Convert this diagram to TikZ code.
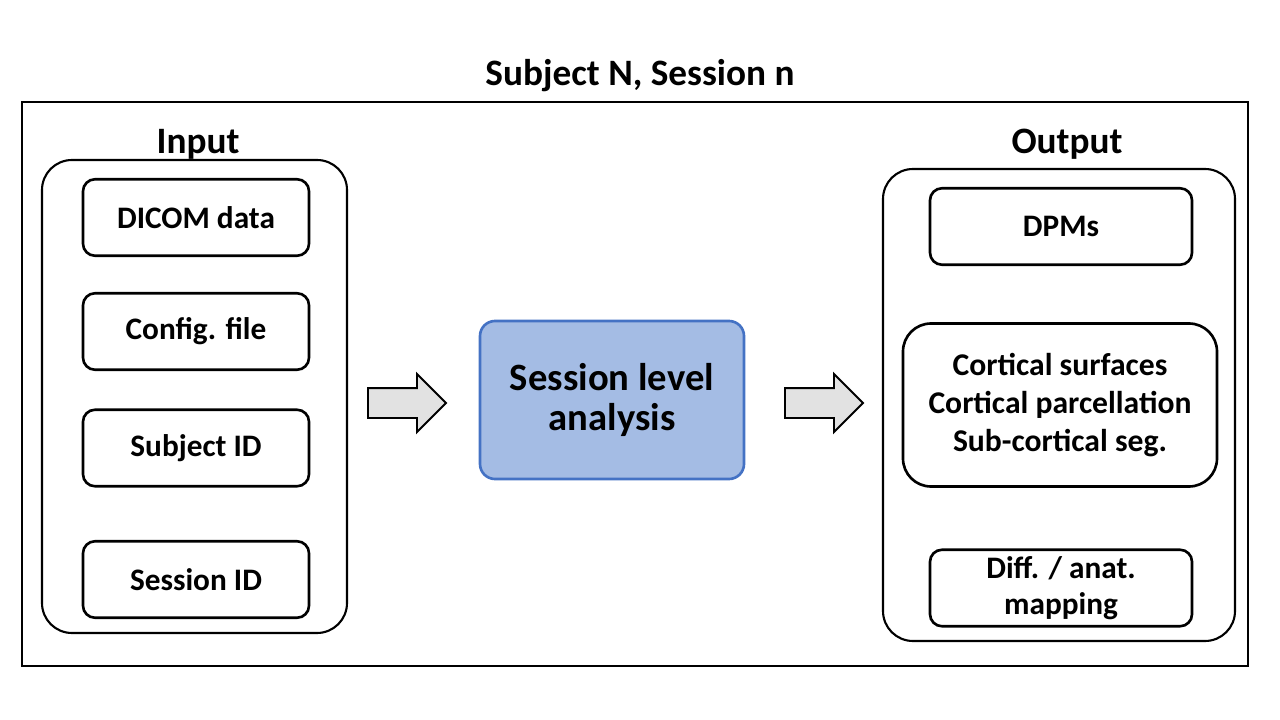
\documentclass[tikz,border=0pt]{standalone}
\usepackage{fontspec}
\setmainfont{Carlito}
\usetikzlibrary{positioning, shapes.arrows}
\definecolor{coreFill}{RGB}{164, 188, 228}
\definecolor{coreEdge}{RGB}{68, 114, 196}
\definecolor{blockGray}{RGB}{226, 226, 226}

\begin{document}
\begin{tikzpicture}[
  x=0.2mm, y=-0.2mm,
  every node/.style={inner sep=0pt, align=center},
  panel/.style={draw, line width=1.2pt, rounded corners=6mm},
  item/.style={draw, line width=1.5pt, rounded corners=2.4mm, minimum height=15.3mm,
    font=\bfseries\fontsize{17.8}{21.5}\selectfont},
  head/.style={anchor=base, font=\bfseries\fontsize{21.2}{25}\selectfont},
  bigarrow/.style={single arrow, draw, line width=1.1pt, fill=blockGray, anchor=tail,
    inner xsep=0pt, inner ysep=2.8mm, minimum height=15.6mm, single arrow head extend=2.8mm}
]
  \useasboundingbox (0,0) rectangle (1280,720);

  % frame and title
  \node[draw, line width=0.6pt, minimum width=245.2mm, minimum height=112.8mm] (frame) at (635,384) {};
  \node[head] (title) at (640,86) {Subject N, Session n};

  % input side
  \node[panel, minimum width=61mm, minimum height=94.6mm] (inpanel) at (194.5,396.5) {};
  \node[head] (inhead) at (198,154) {Input};
  \node[item, minimum width=45.2mm] (dicom) at (196,217.5) {DICOM data};
  \node[item, minimum width=45.2mm] (config) at (196,331.5) {Config. file};
  \node[item, minimum width=45.2mm] (subj) at (196,448) {Subject ID};
  \node[item, minimum width=45.2mm] (sess) at (196,579.5) {Session ID};

  % analysis
  \node[draw=coreEdge, fill=coreFill, line width=1.5pt, rounded corners=3mm,
    minimum width=52.8mm, minimum height=31.6mm,
    font=\bfseries\fontsize{22}{23}\selectfont] (core) at (612,400) {Session level\\analysis};
  \node[bigarrow] (arrin) at (367,403) {};
  \node[bigarrow] (arrout) at (784,403) {};

  % output side
  \node[panel, minimum width=70.4mm, minimum height=94.4mm] (outpanel) at (1059,405) {};
  \node[head] (outhead) at (1067,154) {Output};
  \node[item, minimum width=52.4mm] (dpm) at (1061,226.5) {DPMs};
  \node[item, minimum width=62.8mm, minimum height=32.6mm, rounded corners=5.6mm,
    font=\bfseries\fontsize{18}{21.5}\selectfont] (cort) at (1060,405)
    {Cortical surfaces\\Cortical parcellation\\Sub-cortical seg.};
  \node[item, minimum width=52.4mm, font=\bfseries\fontsize{17.8}{20.5}\selectfont] (diff) at (1061,588)
    {Diff. / anat.\\mapping};
\end{tikzpicture}
\end{document}
